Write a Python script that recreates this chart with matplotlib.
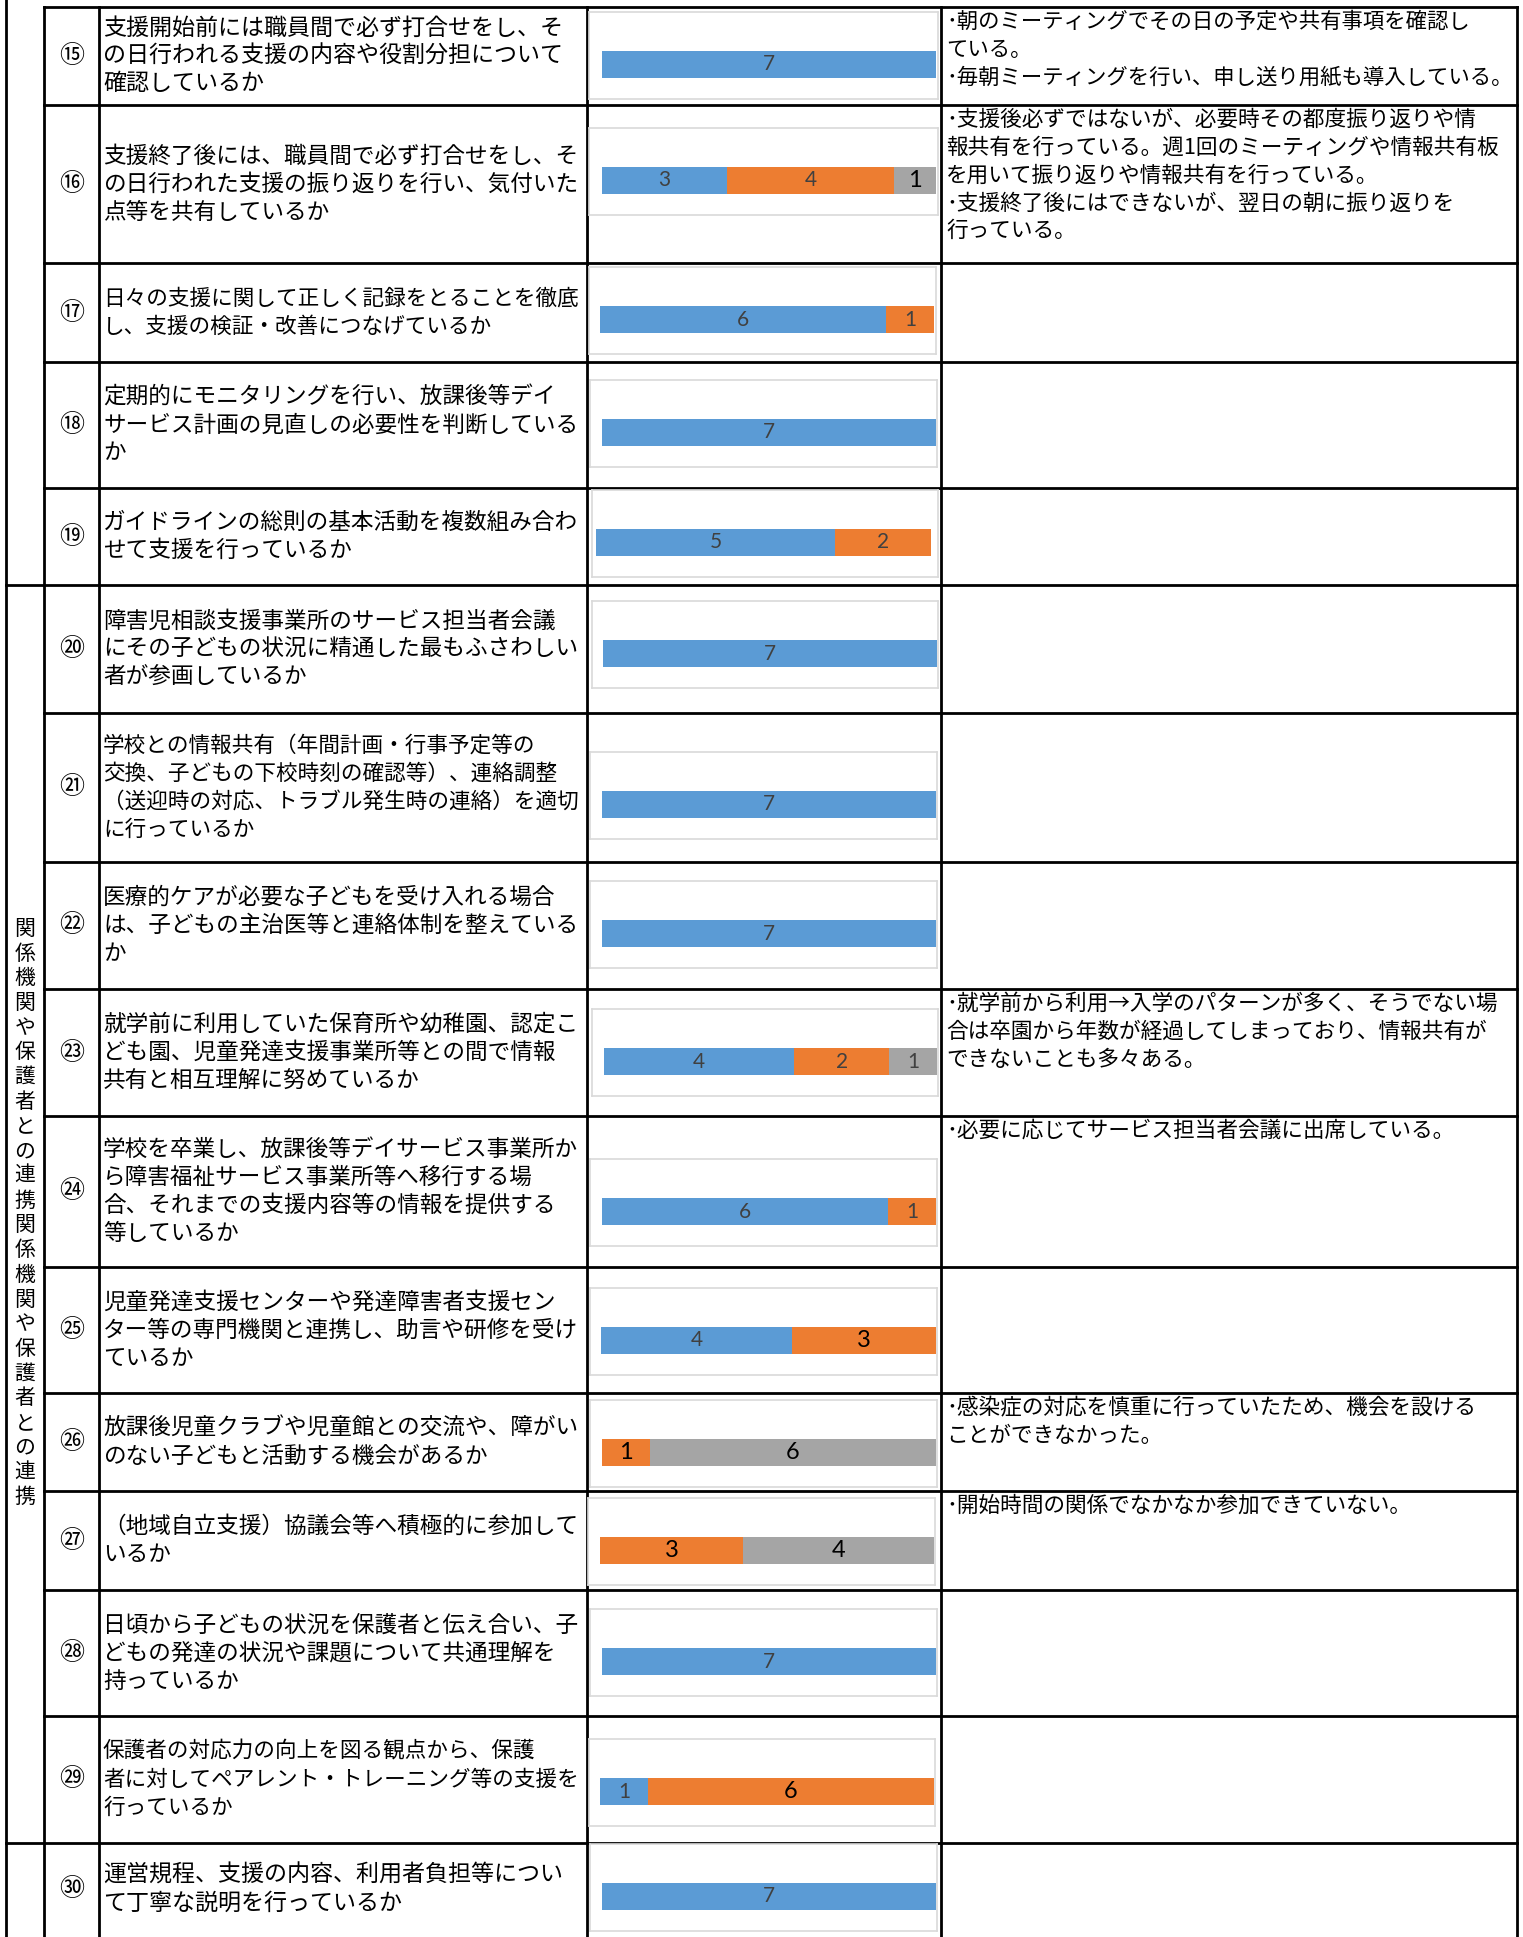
import matplotlib
matplotlib.use("Agg")
import matplotlib.pyplot as plt
from matplotlib.lines import Line2D

plt.rcParams['font.family'] = ['Noto Sans CJK JP', 'DejaVu Sans']

# ---------------- data ----------------
item_numbers = ["⑮", "⑯", "⑰", "⑱", "⑲", "⑳", "㉑", "㉒", "㉓", "㉔", "㉕", "㉖", "㉗", "㉘", "㉙", "㉚"]

questions = [
    ["支援開始前には職員間で必ず打合せをし、そ", "の日行われる支援の内容や役割分担について", "確認しているか"],
    ["支援終了後には、職員間で必ず打合せをし、そ", "の日行われた支援の振り返りを行い、気付いた", "点等を共有しているか"],
    ["日々の支援に関して正しく記録をとることを徹底", "し、支援の検証・改善につなげているか"],
    ["定期的にモニタリングを行い、放課後等デイ", "サービス計画の見直しの必要性を判断している", "か"],
    ["ガイドラインの総則の基本活動を複数組み合わ", "せて支援を行っているか"],
    ["障害児相談支援事業所のサービス担当者会議", "にその子どもの状況に精通した最もふさわしい", "者が参画しているか"],
    ["学校との情報共有（年間計画・行事予定等の", "交換、子どもの下校時刻の確認等）、連絡調整", "（送迎時の対応、トラブル発生時の連絡）を適切", "に行っているか"],
    ["医療的ケアが必要な子どもを受け入れる場合", "は、子どもの主治医等と連絡体制を整えている", "か"],
    ["就学前に利用していた保育所や幼稚園、認定こ", "ども園、児童発達支援事業所等との間で情報", "共有と相互理解に努めているか"],
    ["学校を卒業し、放課後等デイサービス事業所か", "ら障害福祉サービス事業所等へ移行する場", "合、それまでの支援内容等の情報を提供する", "等しているか"],
    ["児童発達支援センターや発達障害者支援セン", "ター等の専門機関と連携し、助言や研修を受け", "ているか"],
    ["放課後児童クラブや児童館との交流や、障がい", "のない子どもと活動する機会があるか"],
    ["（地域自立支援）協議会等へ積極的に参加して", "いるか"],
    ["日頃から子どもの状況を保護者と伝え合い、子", "どもの発達の状況や課題について共通理解を", "持っているか"],
    ["保護者の対応力の向上を図る観点から、保護", "者に対してペアレント・トレーニング等の支援を", "行っているか"],
    ["運営規程、支援の内容、利用者負担等につい", "て丁寧な説明を行っているか"],
]

comments = [
    ["･朝のミーティングでその日の予定や共有事項を確認し", "ている。", "･毎朝ミーティングを行い、申し送り用紙も導入している。"],
    ["･支援後必ずではないが、必要時その都度振り返りや情", "報共有を行っている。週1回のミーティングや情報共有板",
     "を用いて振り返りや情報共有を行っている。", "･支援終了後にはできないが、翌日の朝に振り返りを", "行っている。"],
    [], [], [], [], [], [],
    ["･就学前から利用→入学のパターンが多く、そうでない場", "合は卒園から年数が経過してしまっており、情報共有が",
     "できないことも多々ある。"],
    ["･必要に応じてサービス担当者会議に出席している。"],
    [],
    ["･感染症の対応を慎重に行っていたため、機会を設ける", "ことができなかった。"],
    ["･開始時間の関係でなかなか参加できていない。"],
    [], [], [],
]

category_text = "関係機関や保護者との連携関係機関や保護者との連携"

# stacked bar counts per item
blue_counts   = [7, 3, 6, 7, 5, 7, 7, 7, 4, 6, 4, 0, 0, 7, 1, 7]
orange_counts = [0, 4, 1, 0, 2, 0, 0, 0, 2, 1, 3, 1, 3, 0, 6, 0]
gray_counts   = [0, 1, 0, 0, 0, 0, 0, 0, 1, 0, 0, 6, 4, 0, 0, 0]
# label emphasis (black, larger) per segment: (blue, orange, gray)
label_bold = [
    (0, 0, 0), (0, 0, 1), (0, 0, 0), (0, 0, 0), (0, 0, 0), (0, 0, 0), (0, 0, 0), (0, 0, 0),
    (0, 0, 0), (0, 0, 0), (0, 1, 0), (0, 1, 1), (0, 1, 1), (0, 0, 0), (0, 1, 0), (0, 0, 0),
]

# ---------------- layout (pixels) ----------------
W, H = 1523, 1937
row_bounds = [7, 105, 263, 362, 488, 585, 713, 862, 989, 1116, 1267, 1393, 1491, 1590, 1716, 1843, 1937]
group_bounds = [585, 1843]
X_OUT, X_CAT, X_NUM, X_Q, X_CH, X_R = 6, 44, 99, 587, 941, 1517

box_tops   = [12, 128, 267, 380, 490, 601, 752, 881, 1009, 1159, 1288, 1400, 1498, 1609, 1739, 1844]
box_lefts  = [589, 589, 589, 590, 592, 592, 590, 590, 592, 590, 590, 590, 588, 590, 589, 590]
box_rights = [938, 938, 936, 937, 938, 938, 937, 937, 938, 937, 937, 937, 935, 937, 935, 937]
bar_lefts  = [602, 602, 600, 602, 596, 603, 602, 602, 604, 602, 601, 602, 600, 602, 600, 602]
bar_rights = [936, 936, 934, 936, 931, 937, 936, 936, 937, 936, 936, 936, 934, 936, 934, 936]
BOX_H, BAR_OFF, BAR_H = 87, 39, 27

C_BLUE, C_ORANGE, C_GRAY = "#5B9BD5", "#ED7D31", "#A5A5A5"

fig = plt.figure(figsize=(W / 100, H / 100), dpi=100)
bg = fig.add_axes([0, 0, 1, 1])
bg.set_xlim(0, W)
bg.set_ylim(H, 0)
bg.axis("off")

LW = 2.0
def hline(y, x0, x1):
    bg.add_line(Line2D([x0, x1], [y, y], color="black", lw=LW, solid_capstyle="projecting"))
def vline(x, y0, y1):
    bg.add_line(Line2D([x, x], [y0, y1], color="black", lw=LW, solid_capstyle="projecting"))

# grid
vline(X_OUT, 0, H)
for x in (X_CAT, X_NUM, X_Q, X_CH, X_R):
    vline(x, row_bounds[0], H)
for y in row_bounds[:-1]:
    x0 = X_OUT if y in group_bounds else X_CAT
    hline(y, x0, X_R)

# category vertical text
cat_y0, cat_step = 929, 24.7
for i, ch in enumerate(category_text):
    bg.text((X_OUT + X_CAT) / 2, cat_y0 + i * cat_step, ch, fontsize=15,
            ha="center", va="center", color="black")

Q_LS = 28.0
C_LS = 27.8
Q_FS, C_FS = 16.6, 15.6
Q_MAXW, C_MAXW = 474, 566
paragraphs = []  # (list of text objects, base size, max width)
for i in range(len(item_numbers)):
    top, bot = row_bounds[i], row_bounds[i + 1]
    yc = (top + bot) / 2
    if i == len(item_numbers) - 1:
        yc = 1889
    bg.text((X_CAT + X_NUM) / 2, yc, item_numbers[i], fontsize=18,
            ha="center", va="center", color="black")
    lines = questions[i]
    n = len(lines)
    objs = []
    for j, ln in enumerate(lines):
        objs.append(bg.text(X_NUM + 4, yc + (j - (n - 1) / 2) * Q_LS, ln, fontsize=Q_FS,
                            ha="left", va="center", color="black"))
    paragraphs.append((objs, Q_FS, Q_MAXW))
    objs = []
    for j, ln in enumerate(comments[i]):
        objs.append(bg.text(X_CH + 5, top + 15 + j * C_LS, ln, fontsize=C_FS,
                            ha="left", va="center", color="black"))
    if objs:
        paragraphs.append((objs, C_FS, C_MAXW))

# charts
for i in range(len(item_numbers)):
    bl, br, bt = box_lefts[i], box_rights[i], box_tops[i]
    barl, barr = bar_lefts[i], bar_rights[i]
    vals = (blue_counts[i], orange_counts[i], gray_counts[i])
    total = sum(vals)
    unit = (barr - barl) / total
    ax = fig.add_axes([bl / W, 1 - (bt + BOX_H) / H, (br - bl) / W, BOX_H / H])
    ax.set_xlim((bl - barl) / unit, (br - barl) / unit)
    ax.set_ylim(BOX_H, 0)
    ax.set_xticks([])
    ax.set_yticks([])
    for s in ax.spines.values():
        s.set_color("#D9D9D9")
        s.set_linewidth(1.2)
    yc = BAR_OFF + BAR_H / 2
    left = 0
    for val, col, bold in zip(vals, (C_BLUE, C_ORANGE, C_GRAY), label_bold[i]):
        if val <= 0:
            continue
        ax.barh(yc, val, left=left, height=BAR_H, color=col, edgecolor="none")
        ax.text(left + val / 2, yc, str(val), ha="center", va="center",
                fontsize=17 if bold else 15, family=["Lato", "DejaVu Sans"],
                color="black" if bold else "#404040")
        left += val

# shrink each paragraph uniformly so its widest line fits its cell
fig.canvas.draw()
r = fig.canvas.get_renderer()
for objs, fs, maxw in paragraphs:
    widest = max(o.get_window_extent(r).width for o in objs)
    if widest > maxw:
        nfs = fs * maxw / widest
        for o in objs:
            o.set_fontsize(nfs)

fig.savefig("out.png", dpi=100)
